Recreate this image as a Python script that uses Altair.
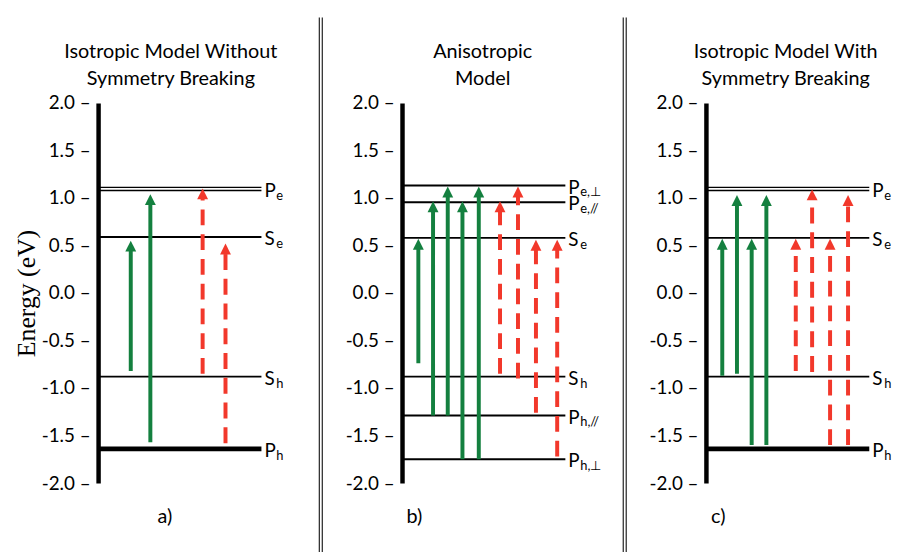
import altair as alt
import pandas as pd

# ---------------- data ----------------
panels = ["a", "b", "c"]
panel_titles = [
    ["Isotropic Model Without", "Symmetry Breaking"],
    ["Anisotropic", "Model"],
    ["Isotropic Model With", "Symmetry Breaking"],
]
panel_tags = ["a)", "b)", "c)"]

# energy levels (eV)
level_panel = ["a", "a", "a", "a",
               "b", "b", "b", "b", "b", "b",
               "c", "c", "c", "c"]
level_energy = [1.095, 0.59, -0.88, -1.64,
                1.13, 0.955, 0.58, -0.88, -1.29, -1.75,
                1.095, 0.58, -0.88, -1.64]
level_letter = ["P", "S", "S", "P",
                "P", "P", "S", "S", "P", "P",
                "P", "S", "S", "P"]
level_sub = ["e", "e", "h", "h",
             "e,⊥", "e,//", "e", "h", "h,//", "h,⊥",
             "e", "e", "h", "h"]
level_kind = ["double", "single", "single", "thick",
              "single", "single", "single", "single", "single", "single",
              "double", "single", "single", "thick"]

# transitions (arrows)
tr_panel = ["a"] * 4 + ["b"] * 9 + ["c"] * 8
tr_pos = [2.0, 3.2, 6.4, 7.8,
          1.0, 1.9, 2.8, 3.7, 4.7, 6.0, 7.1, 8.2, 9.5,
          1.0, 1.9, 2.8, 3.7, 5.5, 6.5, 7.6, 8.7]
tr_from = [-0.82, -1.57, -0.85, -1.58,
           -0.74, -1.29, -1.29, -1.75, -1.75, -0.85, -0.90, -1.26, -1.72,
           -0.87, -0.85, -1.60, -1.60, -0.82, -0.83, -1.60, -1.60]
tr_to = [0.55, 1.04, 1.10, 0.52,
         0.57, 0.965, 1.12, 0.965, 1.12, 0.965, 1.12, 0.56, 0.56,
         0.57, 1.03, 0.57, 1.03, 0.57, 1.09, 0.57, 1.03]
tr_kind = ["allowed", "allowed", "forbidden", "forbidden",
           "allowed", "allowed", "allowed", "allowed", "allowed",
           "forbidden", "forbidden", "forbidden", "forbidden",
           "allowed", "allowed", "allowed", "allowed",
           "forbidden", "forbidden", "forbidden", "forbidden"]

y_ticks = [-2.0, -1.5, -1.0, -0.5, 0.0, 0.5, 1.0, 1.5, 2.0]

levels = pd.DataFrame({"panel": level_panel, "energy": level_energy,
                       "letter": level_letter, "sub": level_sub, "kind": level_kind})
trans = pd.DataFrame({"panel": tr_panel, "x": tr_pos, "from": tr_from,
                      "to": tr_to, "kind": tr_kind})

# ---------------- styling ----------------
FONT = "Lato"
GREEN = "#14803f"
RED = "#f2382b"
W, H = 165, 384

xscale = alt.Scale(domain=[0, 10], nice=False, zero=False)
yscale = alt.Scale(domain=[-2, 2], nice=False, zero=False)
color_scale = alt.Scale(domain=["allowed", "forbidden"], range=[GREEN, RED])
dash_scale = alt.Scale(domain=["allowed", "forbidden"], range=[[1, 0], [16, 9]])
width_scale = alt.Scale(domain=["single", "thick"], range=[2, 5])

title_dx = {"a": -9, "b": -1, "c": -2}
tag_x = {"a": 67, "b": 12, "c": 12}


def make_panel(i, p):
    lv = levels[levels.panel == p]
    tr = trans[trans.panel == p]
    base_lv = alt.Chart(lv).transform_calculate(x0="0", x1="10")

    y_axis = alt.Axis(
        values=y_ticks,
        labelExpr="(datum.value < 0 ? '-' : '') + format(abs(datum.value), '.1f') + ' –'",
        ticks=False, grid=False, domain=True, domainColor="black", domainWidth=4.5,
        labelFont=FONT, labelFontSize=19, labelColor="black", labelPadding=8,
        title="Energy (eV)" if p == "a" else "",
        titleFont="Liberation Serif", titleFontSize=26, titleFontWeight="normal",
        titleColor="black", titlePadding=2,
    )
    x_axis = alt.Axis(
        domain=False, ticks=False, labels=False, grid=False,
        title=panel_tags[i], titleFont=FONT, titleFontSize=20, titleFontWeight="normal",
        titleColor="black", titleX=tag_x[p], titleY=34, titleAlign="center",
        titleBaseline="middle",
    )

    def X(field):
        return alt.X(field, type="quantitative", scale=xscale, axis=x_axis)

    def Y(field):
        return alt.Y(field, type="quantitative", scale=yscale, axis=y_axis)

    lines = base_lv.transform_filter("datum.kind != 'double'").mark_rule(color="black").encode(
        x=X("x0"), x2="x1:Q", y=Y("energy"),
        strokeWidth=alt.StrokeWidth("kind:N", scale=width_scale, legend=None),
    )
    dbl_top = base_lv.transform_filter("datum.kind == 'double'").mark_rule(
        color="black", strokeWidth=1.4, yOffset=-1.6).encode(
        x=X("x0"), x2="x1:Q", y=Y("energy"))
    dbl_bot = base_lv.transform_filter("datum.kind == 'double'").mark_rule(
        color="black", strokeWidth=1.4, yOffset=1.6).encode(
        x=X("x0"), x2="x1:Q", y=Y("energy"))

    main_lbl = base_lv.mark_text(align="left", baseline="middle", dx=3, dy=2,
                                 font=FONT, fontSize=19, color="black").encode(
        x=X("x1"), y=Y("energy"), text="letter:N")
    sub_lbl = base_lv.mark_text(align="left", baseline="middle", dx=15, dy=7,
                                font=FONT, fontSize=13, color="black").encode(
        x=X("x1"), y=Y("energy"), text="sub:N")

    shafts = alt.Chart(tr).mark_rule(strokeWidth=4, y2Offset=6).encode(
        x=X("x"), y=Y("from"), y2="to:Q",
        color=alt.Color("kind:N", scale=color_scale, legend=None),
        strokeDash=alt.StrokeDash("kind:N", scale=dash_scale, legend=None),
    )
    heads = alt.Chart(tr).mark_point(shape="M0,0L0.5,1L-0.5,1Z", size=484, filled=True,
                                     opacity=1, strokeWidth=0).encode(
        x=X("x"), y=Y("to"),
        color=alt.Color("kind:N", scale=color_scale, legend=None),
    )

    return alt.layer(lines, dbl_top, dbl_bot, main_lbl, sub_lbl, shafts, heads).properties(
        width=W, height=H,
        title=alt.TitleParams(text=panel_titles[i], font=FONT, fontSize=20,
                              fontWeight="normal", color="black", lineHeight=27,
                              anchor="middle", frame="group", dx=title_dx[p], offset=5),
    )


def separator():
    sy = alt.Scale(domain=[-2, 2], nice=False, zero=False)
    df = pd.DataFrame({"top": [2.9], "bottom": [-2.9]})
    outer = alt.Chart(df).mark_rule(color="#333333", strokeWidth=1.3).encode(
        x=alt.value(0), y=alt.Y("top:Q", scale=sy, axis=None), y2="bottom:Q")
    inner = alt.Chart(df).mark_rule(color="#333333", strokeWidth=1.3).encode(
        x=alt.value(3), y=alt.Y("top:Q", scale=sy, axis=None), y2="bottom:Q")
    return alt.layer(outer, inner).properties(width=25, height=H)


pa = make_panel(0, "a")
pb = make_panel(1, "b")
pc = make_panel(2, "c")

chart = alt.hconcat(pa, separator(), pb, separator(), pc, spacing=58.5, bounds="flush"
                    ).configure(background="white").configure_view(stroke=None)

chart.save("out.html", embed_options={"renderer": "svg", "actions": False})
